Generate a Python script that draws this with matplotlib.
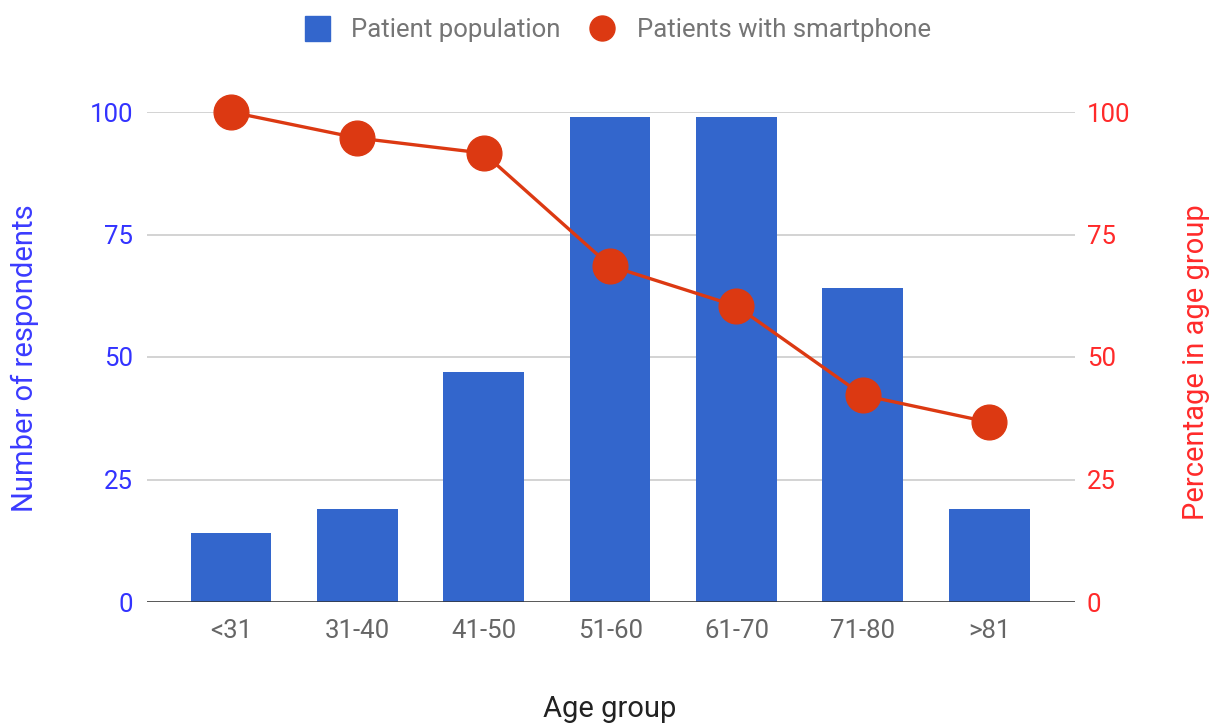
import matplotlib
matplotlib.use("Agg")
import matplotlib.pyplot as plt
from matplotlib.lines import Line2D

age_groups = ["<31", "31-40", "41-50", "51-60", "61-70", "71-80", ">81"]
patient_population = [14, 19, 47, 99, 99, 64, 19]
pct_smartphone = [100, 94.7, 91.6, 68.6, 60.4, 42.2, 36.7]

BAR_COLOR = "#3366cc"
LINE_COLOR = "#dc3912"
W, H = 1211, 724

plt.rcParams["font.family"] = ["Roboto", "DejaVu Sans"]

fig = plt.figure(figsize=(W / 100, H / 100), dpi=100)
# plot area in pixels: x 147..1075, y 112..602
ax = fig.add_axes([147 / W, 1 - 602 / H, 928 / W, 490 / H])
ax2 = ax.twinx()

x = list(range(len(age_groups)))
ax.bar(x, patient_population, width=0.64, color=BAR_COLOR, zorder=2)
ax2.plot(x, pct_smartphone, color=LINE_COLOR, linewidth=2.4, marker="o",
         markersize=25, clip_on=False, zorder=3)

ax.set_xlim(-0.665, 6.68)
ax.set_ylim(0, 100)
ax2.set_ylim(0, 100)
ax.set_yticks([0, 25, 50, 75, 100])
ax2.set_yticks([0, 25, 50, 75, 100])
ax.set_xticks(x)
ax.set_xticklabels(age_groups)

ax.grid(axis="y", color="#cccccc", linewidth=1.2, zorder=0)
ax.set_axisbelow(True)
ax.axhline(0, color="#333333", linewidth=1.8, zorder=4)

for a in (ax, ax2):
    for s in a.spines.values():
        s.set_visible(False)
ax.tick_params(axis="both", length=0)
ax2.tick_params(axis="y", length=0)
ax.tick_params(axis="x", labelsize=18.5, colors="#666666", pad=12)
ax.tick_params(axis="y", labelsize=18.5, labelcolor="#3333ff", pad=10)
ax2.tick_params(axis="y", labelsize=18.5, labelcolor="#ff2a2a", pad=8.5)

# axis titles placed at their pixel positions
fig.text(25 / W, 1 - 358 / H, "Number of respondents", rotation=90,
         ha="center", va="center", fontsize=21, color="#3b3bff")
fig.text(1196 / W, 1 - 362 / H, "Percentage in age group", rotation=90,
         ha="center", va="center", fontsize=21, color="#ff2a2a")
fig.text(610 / W, 1 - 709 / H, "Age group", ha="center", va="center",
         fontsize=21, color="#222222")

handles = [
    Line2D([], [], linestyle="none", marker="s", markersize=18, color=BAR_COLOR),
    Line2D([], [], linestyle="none", marker="o", markersize=18, color=LINE_COLOR),
]
fig.legend(handles, ["Patient population", "Patients with smartphone"],
           loc="center", bbox_to_anchor=(611 / W, 1 - 30 / H), ncol=2,
           frameon=False, fontsize=18.5, labelcolor="#757575",
           handletextpad=0.35, columnspacing=0.6)

fig.savefig("out.png", dpi=100)
